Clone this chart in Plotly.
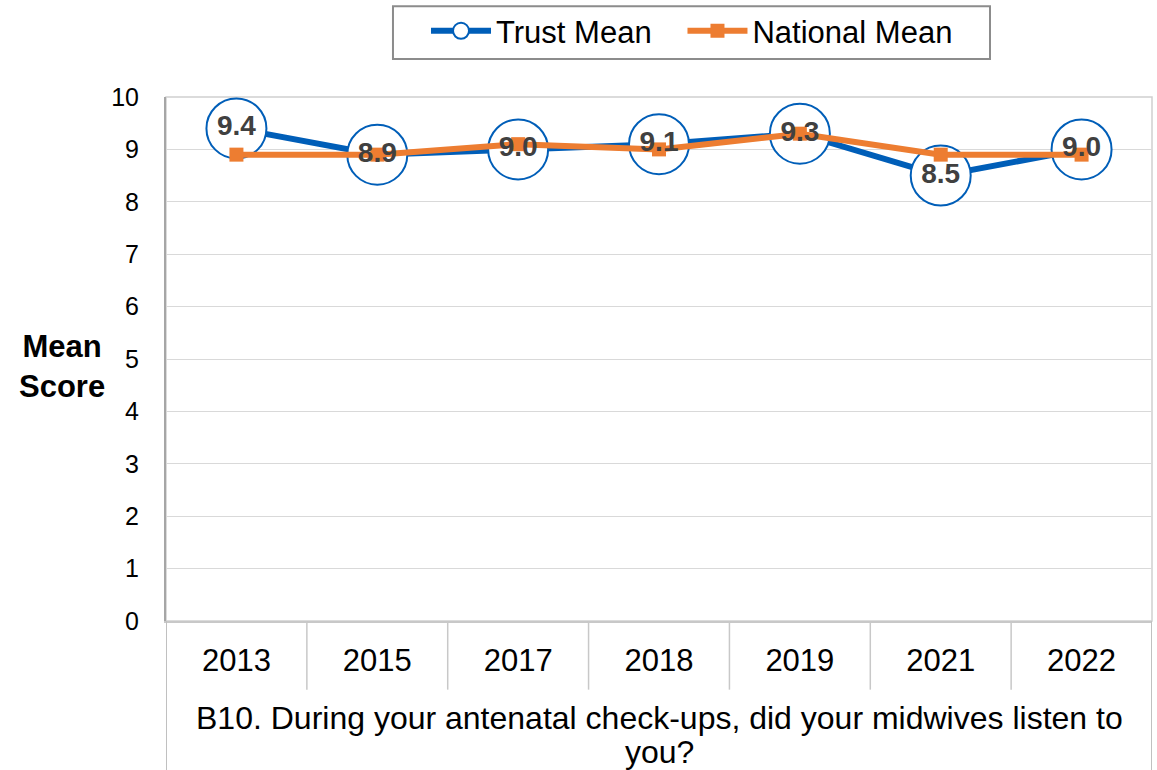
import plotly.graph_objects as go

# Survey years and mean scores (0-10 scale)
years = ["2013", "2015", "2017", "2018", "2019", "2021", "2022"]
trust_mean = [9.4, 8.9, 9.0, 9.1, 9.3, 8.5, 9.0]
national_mean = [8.9, 8.9, 9.1, 9.0, 9.3, 8.9, 8.9]
y_ticks = [0, 1, 2, 3, 4, 5, 6, 7, 8, 9, 10]
question_lines = ["B10. During your antenatal check-ups, did your midwives listen to", "you?"]

BLUE = "#005EB8"
ORANGE = "#ED7D31"
FONT = "Liberation Sans, Arial, sans-serif"
NBSP = "\u00a0"

fig = go.Figure()

fig.add_trace(go.Scatter(
    x=years, y=trust_mean, name="Trust Mean" + NBSP * 3, mode="lines+markers",
    line=dict(color=BLUE, width=6),
    marker=dict(symbol="circle", size=60, color="white",
                line=dict(color=BLUE, width=2)),
    hoverinfo="skip",
))
fig.add_trace(go.Scatter(
    x=years, y=national_mean, name="National Mean", mode="lines+markers",
    line=dict(color=ORANGE, width=6),
    marker=dict(symbol="square", size=14, color=ORANGE),
    hoverinfo="skip",
))
# Value labels for the trust scores, drawn on top
fig.add_trace(go.Scatter(
    x=years, y=trust_mean, mode="text",
    text=[f"{v:.1f}" for v in trust_mean], textposition="middle center",
    textfont=dict(family=FONT, size=28, color="#404040", weight="bold"),
    showlegend=False, hoverinfo="skip",
))

shapes = []
# Plot area outline (top and right)
shapes.append(dict(type="rect", xref="paper", yref="paper", x0=0, x1=1, y0=0, y1=1,
                   line=dict(color="#d0d0d0", width=1.5), layer="below"))
# Category table below the axis: separators between years
n = len(years)
for k in range(1, n):
    shapes.append(dict(type="line", xref="x", yref="paper", x0=k - 0.5, x1=k - 0.5,
                       y0=0, y1=-0.131, line=dict(color="#c8c8c8", width=1.5)))
# Outer borders of the category table
for xv in (-0.5, n - 0.5):
    shapes.append(dict(type="line", xref="x", yref="paper", x0=xv, x1=xv,
                       y0=0, y1=-0.3, line=dict(color="#c0c0c0", width=2)))
# Frame around the legend
shapes.append(dict(type="rect", xref="paper", yref="paper",
                   x0=0.2302, x1=0.8357, y0=1.0724, y1=1.1733,
                   line=dict(color="#8c8c8c", width=2), fillcolor="rgba(0,0,0,0)"))

annotations = [
    dict(text="<b>Mean<br>Score</b>", xref="paper", yref="paper",
         x=-0.105, y=0.486, xanchor="center", yanchor="middle",
         showarrow=False, font=dict(family=FONT, size=31, color="black")),
]
# Category (question) label under the years, one annotation per line
for line_text, yv in zip(question_lines, (-0.185, -0.25)):
    annotations.append(dict(text=line_text, xref="paper", yref="paper",
                            x=0.5, y=yv, xanchor="center", yanchor="middle",
                            showarrow=False,
                            font=dict(family=FONT, size=32, color="black")))

fig.update_layout(
    width=1157, height=770,
    margin=dict(l=166, r=5, t=96, b=149),
    paper_bgcolor="white", plot_bgcolor="white",
    font=dict(family=FONT, color="black"),
    showlegend=True,
    legend=dict(
        orientation="h", x=0.2637, xanchor="left", y=1.175, yanchor="top",
        font=dict(family=FONT, size=31, color="black"),
        borderwidth=0, bgcolor="rgba(0,0,0,0)",
        itemwidth=60, tracegroupgap=0,
    ),
    xaxis=dict(
        type="category", range=[-0.5, n - 0.5],
        showgrid=False, showline=True, linecolor="#c8c8c8", linewidth=1.5,
        ticks="", tickfont=dict(family=FONT, size=31, color="black"),
        ticklabelstandoff=11, zeroline=False,
    ),
    yaxis=dict(
        range=[0, 10], tickvals=y_ticks,
        showgrid=True, gridcolor="#d9d9d9", gridwidth=1,
        showline=True, linecolor="#a6a6a6", linewidth=2,
        ticks="", tickfont=dict(family=FONT, size=25, color="black"),
        ticklabelstandoff=20, zeroline=False,
    ),
    shapes=shapes,
    annotations=annotations,
)

fig.write_html("out.html")
